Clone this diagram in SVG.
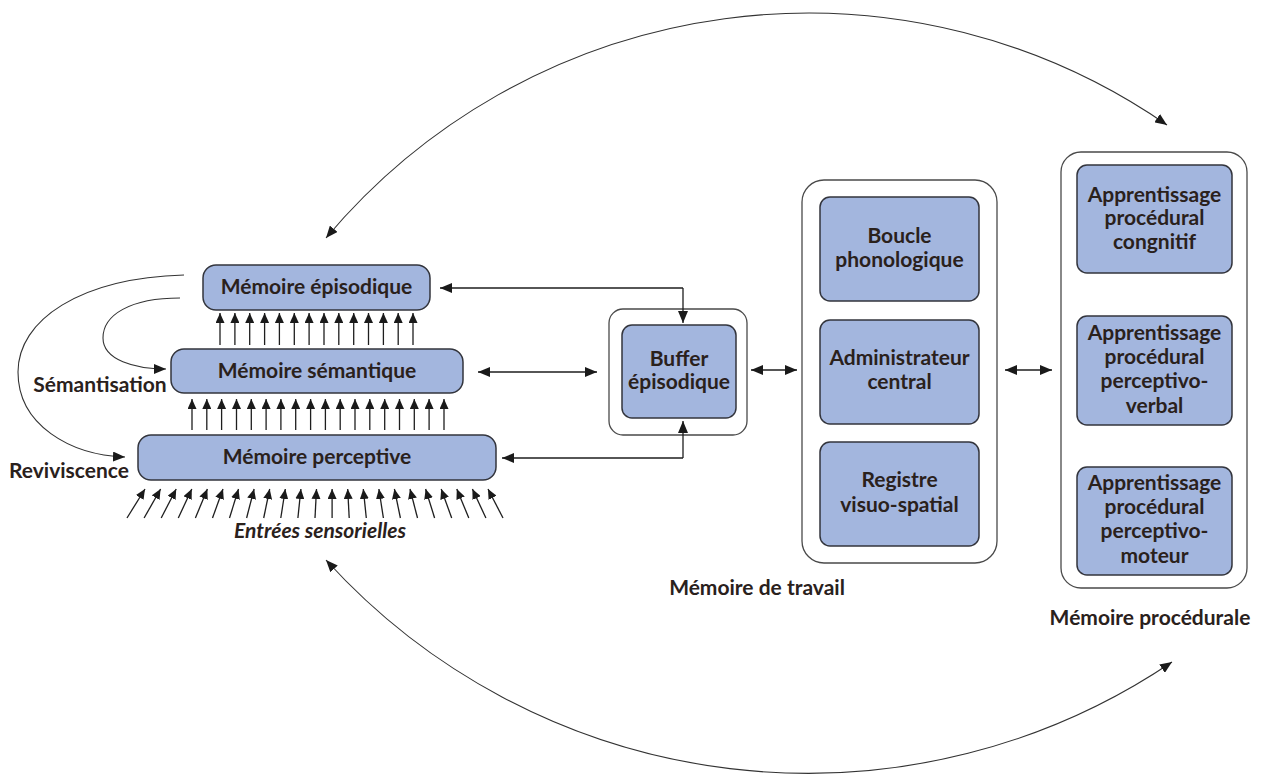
<svg xmlns="http://www.w3.org/2000/svg" width="1265" height="774" viewBox="0 0 1265 774">
<style>
.t{font-family:Lato,"Liberation Sans",sans-serif;font-weight:700;font-size:21px;fill:#2a211c;text-anchor:middle}
.it{font-style:italic}
.box{fill:#a3b6de;stroke:#33353d;stroke-width:1.5}
.outer{fill:#fff;stroke:#4a4a4a;stroke-width:1.3}
.ln{fill:none;stroke:#1e1e1e;stroke-width:1.3}
.arc{fill:none;stroke:#333;stroke-width:1.1}
</style>
<defs>
<marker id="ah" viewBox="0 0 12 10" refX="12" refY="5" markerWidth="12" markerHeight="10" markerUnits="userSpaceOnUse" orient="auto-start-reverse"><path d="M0,0 L12,5 L0,10 z" fill="#1a1a1a"/></marker>
<marker id="as" viewBox="0 0 10 9" refX="10" refY="4.5" markerWidth="10" markerHeight="9" markerUnits="userSpaceOnUse" orient="auto"><path d="M0,0 L10,4.5 L0,9 z" fill="#1a1a1a"/></marker>
</defs>
<rect width="1265" height="774" fill="#fff"/>

<g id="episodique"><rect class="box" x="203" y="265" width="227" height="45" rx="13"/><text class="t" x="316.5" y="294">Mémoire épisodique</text></g>
<g id="semantique"><rect class="box" x="171" y="349" width="292" height="44" rx="13"/><text class="t" x="317" y="378">Mémoire sémantique</text></g>
<g id="perceptive"><rect class="box" x="138" y="435" width="358" height="45" rx="13"/><text class="t" x="317" y="464">Mémoire perceptive</text></g>
<g id="lbl-semantisation"><text class="t" x="100" y="392">Sémantisation</text></g>
<g id="lbl-reviviscence"><text class="t" x="69" y="478">Reviviscence</text></g>
<g id="lbl-entrees"><text class="t it" x="320" y="538">Entrées sensorielles</text></g>

<g id="buffer"><rect class="outer" x="609" y="309" width="138" height="126" rx="14"/><rect class="box" x="622" y="325" width="114" height="93" rx="10"/><text class="t" x="679" y="366">Buffer</text><text class="t" x="679" y="389">épisodique</text></g>

<g id="travail">
<rect class="outer" x="802" y="180" width="195" height="383" rx="22"/>
<g id="boucle"><rect class="box" x="820" y="197" width="159" height="104" rx="10"/><text class="t" x="899.5" y="243">Boucle</text><text class="t" x="899.5" y="267">phonologique</text></g>
<g id="administrateur"><rect class="box" x="820" y="320" width="159" height="104" rx="10"/><text class="t" x="899.5" y="365">Administrateur</text><text class="t" x="899.5" y="389">central</text></g>
<g id="registre"><rect class="box" x="820" y="442" width="159" height="104" rx="10"/><text class="t" x="899.5" y="487">Registre</text><text class="t" x="899.5" y="512">visuo-spatial</text></g>
<text class="t" x="757" y="595">Mémoire de travail</text>
</g>

<g id="procedurale">
<rect class="outer" x="1061" y="152" width="186" height="436" rx="20"/>
<g id="cognitif"><rect class="box" x="1077" y="165" width="155" height="108" rx="10"/><text class="t" x="1154.5" y="202">Apprentissage</text><text class="t" x="1154.5" y="225">procédural</text><text class="t" x="1154.5" y="249">congnitif</text></g>
<g id="verbal"><rect class="box" x="1077" y="316" width="155" height="109" rx="10"/><text class="t" x="1154.5" y="340">Apprentissage</text><text class="t" x="1154.5" y="364">procédural</text><text class="t" x="1154.5" y="388">perceptivo-</text><text class="t" x="1154.5" y="413">verbal</text></g>
<g id="moteur"><rect class="box" x="1077" y="467" width="155" height="108" rx="10"/><text class="t" x="1154.5" y="490">Apprentissage</text><text class="t" x="1154.5" y="514">procédural</text><text class="t" x="1154.5" y="538">perceptivo-</text><text class="t" x="1154.5" y="563">moteur</text></g>
<text class="t" x="1150" y="625">Mémoire procédurale</text>
</g>

<g id="connectors">
<path class="arc" d="M326,238 A630,630 0 0 1 1167,125" marker-start="url(#ah)" marker-end="url(#ah)"/>
<path class="arc" d="M326,560 A651,651 0 0 0 1172,662" marker-start="url(#ah)" marker-end="url(#ah)"/>
<path class="arc" d="M184,275 C80,278 18,320 18,372 C18,425 70,455 125,457" marker-end="url(#ah)"/>
<path class="arc" d="M180,298 C130,298 103,315 103,338 C103,360 135,369 166,369" marker-end="url(#ah)"/>
<path class="ln" d="M683,288 L440,288" marker-end="url(#ah)"/>
<path class="ln" d="M683,288 L683,323" marker-end="url(#ah)"/>
<path class="ln" d="M478,372 L597,372" marker-start="url(#ah)" marker-end="url(#ah)"/>
<path class="ln" d="M683,458 L502,458" marker-end="url(#ah)"/>
<path class="ln" d="M683,458 L683,421" marker-end="url(#ah)"/>
<path class="ln" d="M751,370 L797,370" marker-start="url(#ah)" marker-end="url(#ah)"/>
<path class="ln" d="M1005,370 L1052,370" marker-start="url(#ah)" marker-end="url(#ah)"/>
<g id="up-semantic" class="ln">
<line x1="220" y1="345" x2="220" y2="313" marker-end="url(#as)"/>
<line x1="234.9" y1="345" x2="234.9" y2="313" marker-end="url(#as)"/>
<line x1="249.7" y1="345" x2="249.7" y2="313" marker-end="url(#as)"/>
<line x1="264.6" y1="345" x2="264.6" y2="313" marker-end="url(#as)"/>
<line x1="279.4" y1="345" x2="279.4" y2="313" marker-end="url(#as)"/>
<line x1="294.3" y1="345" x2="294.3" y2="313" marker-end="url(#as)"/>
<line x1="309.1" y1="345" x2="309.1" y2="313" marker-end="url(#as)"/>
<line x1="324" y1="345" x2="324" y2="313" marker-end="url(#as)"/>
<line x1="338.8" y1="345" x2="338.8" y2="313" marker-end="url(#as)"/>
<line x1="353.7" y1="345" x2="353.7" y2="313" marker-end="url(#as)"/>
<line x1="368.5" y1="345" x2="368.5" y2="313" marker-end="url(#as)"/>
<line x1="383.4" y1="345" x2="383.4" y2="313" marker-end="url(#as)"/>
<line x1="398.2" y1="345" x2="398.2" y2="313" marker-end="url(#as)"/>
<line x1="413" y1="345" x2="413" y2="313" marker-end="url(#as)"/>
</g>
<g id="up-perceptive" class="ln">
<line x1="192" y1="430" x2="192" y2="399" marker-end="url(#as)"/>
<line x1="206.8" y1="430" x2="206.8" y2="399" marker-end="url(#as)"/>
<line x1="221.6" y1="430" x2="221.6" y2="399" marker-end="url(#as)"/>
<line x1="236.5" y1="430" x2="236.5" y2="399" marker-end="url(#as)"/>
<line x1="251.3" y1="430" x2="251.3" y2="399" marker-end="url(#as)"/>
<line x1="266.1" y1="430" x2="266.1" y2="399" marker-end="url(#as)"/>
<line x1="280.9" y1="430" x2="280.9" y2="399" marker-end="url(#as)"/>
<line x1="295.7" y1="430" x2="295.7" y2="399" marker-end="url(#as)"/>
<line x1="310.6" y1="430" x2="310.6" y2="399" marker-end="url(#as)"/>
<line x1="325.4" y1="430" x2="325.4" y2="399" marker-end="url(#as)"/>
<line x1="340.2" y1="430" x2="340.2" y2="399" marker-end="url(#as)"/>
<line x1="355" y1="430" x2="355" y2="399" marker-end="url(#as)"/>
<line x1="369.8" y1="430" x2="369.8" y2="399" marker-end="url(#as)"/>
<line x1="384.7" y1="430" x2="384.7" y2="399" marker-end="url(#as)"/>
<line x1="399.5" y1="430" x2="399.5" y2="399" marker-end="url(#as)"/>
<line x1="414.3" y1="430" x2="414.3" y2="399" marker-end="url(#as)"/>
<line x1="429.1" y1="430" x2="429.1" y2="399" marker-end="url(#as)"/>
<line x1="444" y1="430" x2="444" y2="399" marker-end="url(#as)"/>
</g>
<g id="sensory" class="ln">
<line x1="127" y1="518" x2="145" y2="489" marker-end="url(#as)"/>
<line x1="144.1" y1="518" x2="160.6" y2="489" marker-end="url(#as)"/>
<line x1="161.2" y1="518" x2="176.2" y2="489" marker-end="url(#as)"/>
<line x1="178.3" y1="518" x2="191.8" y2="489" marker-end="url(#as)"/>
<line x1="195.4" y1="518" x2="207.4" y2="489" marker-end="url(#as)"/>
<line x1="212.5" y1="518" x2="223" y2="489" marker-end="url(#as)"/>
<line x1="229.5" y1="518" x2="238.5" y2="489" marker-end="url(#as)"/>
<line x1="246.6" y1="518" x2="254.1" y2="489" marker-end="url(#as)"/>
<line x1="263.7" y1="518" x2="269.7" y2="489" marker-end="url(#as)"/>
<line x1="280.8" y1="518" x2="285.3" y2="489" marker-end="url(#as)"/>
<line x1="297.9" y1="518" x2="300.9" y2="489" marker-end="url(#as)"/>
<line x1="315" y1="518" x2="316.5" y2="489" marker-end="url(#as)"/>
<line x1="332.1" y1="518" x2="332.1" y2="489" marker-end="url(#as)"/>
<line x1="349.2" y1="518" x2="347.7" y2="489" marker-end="url(#as)"/>
<line x1="366.3" y1="518" x2="363.3" y2="489" marker-end="url(#as)"/>
<line x1="383.4" y1="518" x2="378.9" y2="489" marker-end="url(#as)"/>
<line x1="400.4" y1="518" x2="394.4" y2="489" marker-end="url(#as)"/>
<line x1="417.5" y1="518" x2="410" y2="489" marker-end="url(#as)"/>
<line x1="434.6" y1="518" x2="425.6" y2="489" marker-end="url(#as)"/>
<line x1="451.7" y1="518" x2="441.2" y2="489" marker-end="url(#as)"/>
<line x1="468.8" y1="518" x2="456.8" y2="489" marker-end="url(#as)"/>
<line x1="485.9" y1="518" x2="472.4" y2="489" marker-end="url(#as)"/>
<line x1="503" y1="518" x2="488" y2="489" marker-end="url(#as)"/>
</g>
</g>
</svg>
